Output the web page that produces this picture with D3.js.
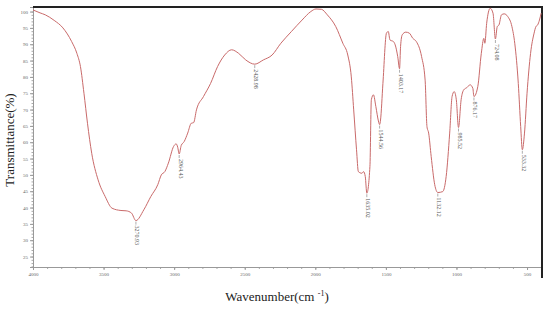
<!DOCTYPE html>
<html>
<head>
<meta charset="utf-8">
<script src="https://cdn.jsdelivr.net/npm/d3@7"></script>
<style>
  body { margin: 0; background: #fff; }
  svg { display: block; }
</style>
</head>
<body>
<div id="chart"></div>
<script>
// spectrum: wavenumber (cm-1) and transmittance (%)
const wavenumbers = [4000, 3950, 3913, 3850, 3788, 3726, 3689, 3664, 3639, 3614, 3584, 3539, 3489, 3440, 3377, 3340, 3302, 3270.93,
  3215, 3165, 3116, 3091, 3066, 3041, 3004, 2986, 2975, 2964.43, 2950, 2929, 2904, 2879, 2862, 2842, 2792, 2742, 2692, 2642,
  2593, 2543, 2493, 2428.98, 2368, 2306, 2244, 2169, 2094, 2032, 1995, 1957, 1915, 1855, 1805, 1770, 1745, 1728, 1708, 1695,
  1670, 1658, 1646, 1635.02, 1613, 1603, 1588, 1571, 1553, 1544.56, 1538, 1521, 1496, 1483, 1471, 1446, 1434, 1416, 1403.17,
  1396, 1384, 1359, 1334, 1309, 1284, 1247, 1222, 1209, 1197, 1179, 1154, 1132.12, 1097, 1073, 1048, 1031, 1016, 1001, 985.52,
  967, 949, 924, 904, 884, 876.17, 849, 824, 806, 799, 786, 761, 741, 724.08, 711, 699, 681, 662, 637, 607, 587, 562, 545,
  533.32, 518, 500, 475, 450, 437, 425, 412, 400];
const transmittance = [100.5, 99.6, 99, 97.3, 95, 90.8, 87.2, 83.2, 75, 65.8, 56.6, 48.5, 43.4, 39.8, 39.1, 39, 38.3, 36,
  39.3, 43.4, 47, 50, 51, 53.6, 58.7, 59.5, 58.5, 56.4, 59, 60.2, 62.8, 65.8, 66, 69.9, 74, 78, 83.2, 86.7,
  88.3, 87.2, 85.2, 83.9, 85.2, 86.7, 90.3, 93.9, 97.4, 100, 100.8, 100.7, 99, 95.4, 90.3, 86.7, 80, 69.9, 57.7, 51,
  50.5, 51, 49.5, 44.4, 52.6, 73, 74.5, 70.9, 66.5, 65.4, 66.8, 78, 93.4, 93.9, 91.3, 90.8, 89.8, 86.2, 82.5,
  89.3, 92.9, 93.7, 93.4, 91.8, 90.8, 86.2, 79, 64.8, 62.8, 55.6, 47, 44.6, 44.9, 49.5, 62.8, 74, 75.5, 73, 64.5,
  73, 76, 76.8, 77.6, 76.5, 74, 77, 87.2, 91.8, 90.3, 96.4, 101, 99.5, 91.6, 95.4, 95.9, 99, 99.3, 98.5, 95.4, 90.3, 78, 64.8,
  57.7, 62.8, 75, 87.2, 93.4, 95.4, 95.9, 97.4, 99.5];

// labelled peaks
const peakWavenumbers = [3270.93, 2964.43, 2428.98, 1635.02, 1544.56, 1403.17, 1132.12, 985.52, 876.17, 724.08, 533.32];
const peakValues = [36, 56.4, 83.9, 44.4, 65.4, 82.5, 44.6, 64.5, 74, 91.6, 57.7];

const xTicks = [4000, 3500, 3000, 2500, 2000, 1500, 1000, 500];
const yTicks = [25, 30, 35, 40, 45, 50, 55, 60, 65, 70, 75, 80, 85, 90, 95, 100];

const width = 550, height = 311;
const plotLeft = 33, plotRight = 542, plotTop = 7, plotBottom = 267;

const svg = d3.select("#chart")
  .append("svg")
    .attr("width", width)
    .attr("height", height);

const x = d3.scaleLinear().domain([4000, 394]).range([plotLeft, plotRight]);
const y = d3.scaleLinear().domain([21.8, 101.4]).range([plotBottom, plotTop]);

// minor ticks
svg.append("g")
  .attr("transform", `translate(0,${plotBottom})`)
  .call(d3.axisBottom(x).tickValues(d3.range(4000, 394, -100)).tickSize(2).tickFormat(""))
  .call(g => g.select(".domain").remove())
  .selectAll("line").attr("stroke", "#aaa");
svg.append("g")
  .attr("transform", `translate(${plotLeft},0)`)
  .call(d3.axisLeft(y).tickValues(d3.range(22, 101, 1)).tickSize(1.5).tickFormat(""))
  .call(g => g.select(".domain").remove())
  .selectAll("line").attr("stroke", "#aaa");

// X axis
const xAxis = svg.append("g")
  .attr("transform", `translate(0,${plotBottom})`)
  .call(d3.axisBottom(x).tickValues(xTicks).tickSize(3).tickPadding(2).tickFormat(d3.format("d")));
xAxis.select(".domain").attr("stroke", "#999");
xAxis.selectAll("line").attr("stroke", "#999");
xAxis.selectAll("text")
  .style("font", "5px 'Liberation Serif'")
  .attr("fill", "#666");

// Y axis
const yAxis = svg.append("g")
  .attr("transform", `translate(${plotLeft},0)`)
  .call(d3.axisLeft(y).tickValues(yTicks).tickSize(3).tickPadding(2));
yAxis.select(".domain").attr("stroke", "#999");
yAxis.selectAll("line").attr("stroke", "#999");
yAxis.selectAll("text")
  .style("font", "5px 'Liberation Serif'")
  .attr("fill", "#666");

// frame: top and right borders
svg.append("line")
  .attr("x1", plotLeft).attr("x2", plotRight + 1)
  .attr("y1", plotTop).attr("y2", plotTop)
  .attr("stroke", "#222").attr("stroke-width", 2);
svg.append("line")
  .attr("x1", plotRight).attr("x2", plotRight)
  .attr("y1", plotTop).attr("y2", 278)
  .attr("stroke", "#222").attr("stroke-width", 2);

// spectrum
const points = wavenumbers.map((w, i) => [w, transmittance[i]]);
svg.append("path")
  .datum(points)
  .attr("fill", "none")
  .attr("stroke", "#c96a6a")
  .attr("stroke-width", 1)
  .attr("d", d3.line()
    .x(d => x(d[0]))
    .y(d => y(d[1]))
    .curve(d3.curveMonotoneX));

// peak labels
const peaks = svg.selectAll(".peak")
  .data(peakWavenumbers)
  .enter()
  .append("g")
    .attr("class", "peak")
    .attr("transform", (d, i) => `translate(${x(d)},${y(peakValues[i])})`);
peaks.append("line")
  .attr("x1", 0).attr("x2", 0)
  .attr("y1", 1).attr("y2", 4)
  .attr("stroke", "#777").attr("stroke-width", 0.6);
peaks.append("text")
  .attr("transform", "translate(-0.5,5) rotate(90)")
  .style("font", "6px 'Liberation Serif'")
  .attr("fill", "#555")
  .text(d => d.toFixed(2));

// axis titles
svg.append("text")
  .attr("transform", "translate(14,140) rotate(-90)")
  .attr("text-anchor", "middle")
  .style("font", "13px 'Liberation Serif'")
  .attr("fill", "#222")
  .text("Transmittance(%)");

const xt = svg.append("text")
  .attr("x", 277).attr("y", 301)
  .attr("text-anchor", "middle")
  .style("font", "13px 'Liberation Serif'")
  .attr("fill", "#222");
xt.append("tspan").text("Wavenumber(cm ");
xt.append("tspan").attr("dy", -5).style("font-size", "8px").text("-1");
xt.append("tspan").attr("dy", 5).text(")");
</script>
</body>
</html>
